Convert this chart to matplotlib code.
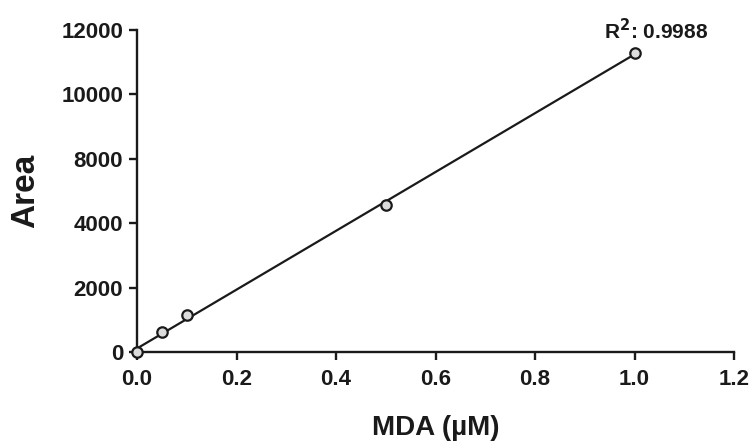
import matplotlib
matplotlib.use('Agg')
import matplotlib.pyplot as plt
import numpy as np

plt.rcParams['font.family'] = ['Liberation Sans', 'DejaVu Sans']
plt.rcParams['font.weight'] = 'bold'

# data
mda = np.array([0.0, 0.05, 0.1, 0.5, 1.0])
area = np.array([0, 745, 1380, 5480, 11140])
r2_text = 'R$^2$: 0.9988'

x_ticks = [0.0, 0.2, 0.4, 0.6, 0.8, 1.0, 1.2]
x_tick_labels = ['0.0', '0.2', '0.4', '0.6', '0.8', '1.0', '1.2']
y_ticks = [0, 2400, 4800, 7200, 9600, 12000]
y_tick_labels = ['0', '2000', '4000', '8000', '10000', '12000']

ink = '#1a1a1a'

fig = plt.figure(figsize=(7.5, 4.42), dpi=100)
ax = fig.add_axes([0.1827, 0.2036, 0.796, 0.7285])

# linear fit line
slope, intercept = np.polyfit(mda, area, 1)
xfit = np.array([mda.min(), mda.max()])
ax.plot(xfit, slope * xfit + intercept, color=ink, lw=1.6, zorder=2, clip_on=False)

ax.plot(mda, area, 'o', ms=7.5, mfc='#dcdcdc', mec=ink, mew=1.6,
        zorder=3, clip_on=False)

ax.annotate(r2_text, xy=(mda[-1], area[-1]), xytext=(-22, 10),
            textcoords='offset points', ha='left', va='baseline',
            fontsize=15, fontweight='bold', color=ink)

ax.set_xlim(0, 1.2)
ax.set_ylim(0, 12000)
ax.set_xticks(x_ticks)
ax.set_xticklabels(x_tick_labels)
ax.set_yticks(y_ticks)
ax.set_yticklabels(y_tick_labels)

for s in ['top', 'right']:
    ax.spines[s].set_visible(False)
for s in ['left', 'bottom']:
    ax.spines[s].set_linewidth(1.7)
    ax.spines[s].set_color(ink)

ax.tick_params(axis='both', length=6, width=1.7, color=ink, labelcolor=ink,
               labelsize=16, direction='out')
ax.tick_params(axis='y', pad=4)
ax.tick_params(axis='x', pad=6)
for lab in ax.get_xticklabels() + ax.get_yticklabels():
    lab.set_fontweight('bold')

ax.set_xlabel('MDA (µM)', fontsize=20, fontweight='bold', color=ink, labelpad=18)
ax.set_ylabel('Area', fontsize=24, fontweight='bold', color=ink)
ax.yaxis.set_label_coords(-0.16, 0.5)

fig.savefig('out.png', dpi=100, facecolor='white')
